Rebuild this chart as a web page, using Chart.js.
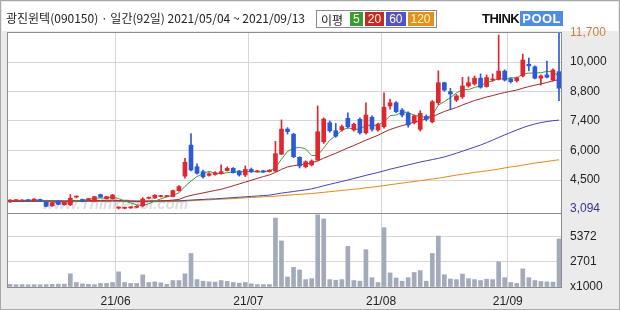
<!DOCTYPE html>
<html>
<head>
<meta charset="utf-8">
<script src="https://cdn.jsdelivr.net/npm/chart.js@4.4.0/dist/chart.umd.min.js"></script>
<style>
  html, body { margin: 0; padding: 0; background: #ebebeb; }
  #wrap { position: relative; width: 620px; height: 310px; overflow: hidden; }
  #chart { position: absolute; left: 0; top: 0; }
  #title { position: absolute; left: 6px; top: 9px; font: 12px "Noto Sans CJK KR", sans-serif; color: #222; white-space: nowrap; line-height: 18px; }
  #maBox { position: absolute; left: 316px; top: 10px; height: 16px; border: 1px solid #8a8a8a; background: #fff; display: flex; align-items: center; padding: 0 2px 0 4px; font: 12px "Noto Sans CJK KR", sans-serif; }
  #maBox .lbl { margin-right: 5px; color: #222; }
  #maBox .ma { display: inline-block; height: 14px; line-height: 14px; padding: 0 3px; margin-left: 2px; font: 12px "Liberation Sans", sans-serif; color: #ffffc8; }
  #logo { position: absolute; left: 482px; top: 11px; font: bold 13px "Liberation Sans", sans-serif; white-space: nowrap; line-height: 16px; }
  #logo .think { color: #111; letter-spacing: -0.5px; }
  #logo .pool { color: #fff; background: #4d8de6; padding: 0 2px; margin-left: 1px; letter-spacing: 0.5px; }
</style>
</head>
<body>
<div id="wrap">
  <canvas id="chart" width="620" height="310"></canvas>
  <div id="title">광진윈텍(090150) · 일간(92일) 2021/05/04 ~ 2021/09/13</div>
  <div id="maBox"><span class="lbl">이평</span></div>
  <div id="logo"><span class="think">THINK</span><span class="pool">POOL</span></div>
</div>
<script>
// trading days, 2021/05/04 ~ 2021/09/13
const mayDays = [4, 6, 7, 10, 11, 12, 13, 14, 17, 18, 20, 21, 24, 25, 26, 27, 28, 31]
const junDays = [1, 2, 3, 4, 7, 8, 9, 10, 11, 14, 15, 16, 17, 18, 21, 22, 23, 24, 25, 28, 29, 30]
const julDays = [1, 2, 5, 6, 7, 8, 9, 12, 13, 14, 15, 16, 19, 20, 21, 22, 23, 26, 27, 28, 29, 30]
const augDays = [2, 3, 4, 5, 6, 9, 10, 11, 12, 13, 17, 18, 19, 20, 23, 24, 25, 26, 27, 30, 31]
const sepDays = [1, 2, 3, 6, 7, 8, 9, 10, 13]

const opens = [
  3440, 3500, 3480, 3530, 3500, 3560, 3440, 3250, 3480, 3300,
  3300, 3680, 3560, 3520, 3480, 3800, 3600, 3600, 3140, 3130,
  3150, 3180, 3250, 3620, 3630, 3700, 3700, 3700, 3990, 4700,
  6220, 5160, 4920, 4740, 4780, 4820, 4970, 5080, 4950, 4760,
  5030, 4910, 4960, 4920, 4950, 5780, 7000, 6750, 5620, 5160,
  5250, 5490, 6380, 7310, 6920, 6960, 7530, 6960, 7480, 6820,
  7580, 6960, 7120, 8130, 8290, 7930, 7770, 7310, 6990, 7620,
  7360, 8290, 9270, 8830, 8420, 8580, 9110, 9210, 9490, 9080,
  9400, 9430, 9840, 9450, 9370, 9600, 10170, 10050, 9490, 9650,
  9400, 9810,
]
const highs = [
  3560, 3560, 3550, 3560, 3600, 3580, 3460, 3420, 3500, 3450,
  3800, 3720, 3580, 3620, 3720, 3820, 3720, 3800, 3200, 3190,
  3210, 3260, 3650, 3680, 3790, 3760, 3750, 4020, 4240, 5570,
  6780, 5300, 5000, 4880, 4920, 5250, 5150, 5120, 4980, 5200,
  5100, 4990, 4990, 5020, 6400, 7450, 7070, 6800, 5650, 5450,
  5500, 8130, 7550, 7400, 7280, 7200, 7800, 7300, 7550, 8290,
  7650, 7300, 8780, 8470, 8350, 8000, 7850, 7700, 7900, 7700,
  8400, 9850, 9300, 9000, 8700, 9530, 9560, 9600, 9700, 9650,
  9700, 11600, 9900, 9500, 9550, 10670, 10480, 10100, 9650, 10330,
  9950, 11700,
]
const lows = [
  3420, 3480, 3460, 3480, 3480, 3460, 3200, 3220, 3300, 3280,
  3260, 3640, 3440, 3500, 3460, 3660, 3580, 3580, 3094, 3100,
  3120, 3150, 3200, 3590, 3610, 3680, 3680, 3680, 3960, 4600,
  4950, 4800, 4600, 4700, 4750, 4800, 4950, 4850, 4700, 4680,
  4880, 4890, 4880, 4900, 4920, 5750, 6760, 5600, 5100, 5100,
  5200, 5450, 6300, 6850, 6600, 6900, 7050, 6900, 6750, 6750,
  6900, 6900, 7050, 7970, 7800, 7600, 7100, 7250, 6900, 7400,
  7300, 8200, 8850, 7950, 8350, 8500, 9050, 9150, 9000, 9050,
  9350, 9400, 9350, 9250, 9300, 9550, 9850, 9450, 9150, 9500,
  9350, 8390,
]
const closes = [
  3530, 3520, 3520, 3500, 3580, 3480, 3230, 3400, 3320, 3420,
  3620, 3700, 3460, 3600, 3700, 3680, 3700, 3780, 3160, 3150,
  3170, 3230, 3580, 3640, 3770, 3720, 3720, 3990, 4190, 5380,
  5000, 4840, 4670, 4820, 4870, 4920, 5080, 4870, 4760, 5030,
  4910, 4960, 4900, 4990, 5800, 7000, 6880, 5650, 5200, 5400,
  5440, 6870, 7490, 6920, 6660, 7120, 7120, 7240, 6820, 7690,
  6990, 7240, 8070, 8290, 7850, 7690, 7200, 7640, 7770, 7480,
  8340, 9270, 8910, 8720, 8620, 9110, 9270, 9490, 9050, 9520,
  9430, 9840, 9400, 9320, 9510, 10380, 10090, 9490, 9600, 9540,
  9890, 9000,
]
// volume, thousand shares
const volumes = [
  280, 250, 260, 240, 250, 240, 260, 280, 300, 300,
  1410, 480, 340, 280, 250, 380, 380, 480, 1620, 480,
  380, 380, 1300, 480, 550, 450, 280, 690, 690, 1410,
  3580, 790, 620, 550, 520, 690, 590, 480, 410, 480,
  340, 260, 260, 270, 7360, 4920, 1070, 2100, 1820, 790,
  890, 7700, 7260, 790, 720, 790, 4330, 690, 620, 3990,
  1000, 480, 6330, 1510, 960, 620, 1000, 1550, 1750, 620,
  3580, 5440, 1310, 860, 790, 1380, 890, 790, 690, 830,
  790, 2680, 1000, 480, 380, 1930, 1000, 690, 590, 550,
  520, 5130,
]
// moving averages as drawn
const ma5 = [
  3510, 3510, 3515, 3515, 3530, 3520, 3460, 3440, 3400, 3370,
  3400, 3490, 3500, 3560, 3620, 3630, 3630, 3690, 3600, 3490,
  3390, 3300, 3260, 3350, 3480, 3590, 3690, 3770, 3880, 4200,
  4460, 4680, 4820, 4940, 4840, 4820, 4870, 4910, 4900, 4930,
  4930, 4910, 4910, 4960, 5110, 5530, 5910, 6060, 6110, 6030,
  5710, 5710, 6080, 6460, 6680, 6950, 7060, 7010, 6980, 7200,
  7170, 7200, 7360, 7660, 7690, 7830, 7820, 7670, 7630, 7560,
  7690, 8170, 8350, 8540, 8770, 8930, 8930, 9040, 9110, 9290,
  9350, 9470, 9450, 9510, 9500, 9690, 9740, 9740, 9760, 9820,
  9800, 9580,
]
const ma20 = [
  3490, 3495, 3500, 3500, 3505, 3505, 3500, 3495, 3490, 3490,
  3495, 3500, 3500, 3505, 3510, 3515, 3520, 3530, 3510, 3495,
  3480, 3470, 3470, 3475, 3485, 3495, 3505, 3530, 3560, 3680,
  3760, 3820, 3880, 3940, 4000, 4060, 4140, 4230, 4320, 4410,
  4500, 4590, 4680, 4760, 4880, 5030, 5150, 5210, 5250, 5300,
  5350, 5440, 5580, 5700, 5820, 5950, 6080, 6200, 6330, 6460,
  6580, 6700, 6850, 6980, 7080, 7170, 7250, 7340, 7420, 7500,
  7600, 7740, 7860, 7960, 8060, 8180, 8290, 8400, 8480, 8570,
  8640, 8720, 8790, 8850, 8910, 9000, 9080, 9150, 9210, 9280,
  9360, 9420,
]
const ma60 = [
  3470, 3470, 3472, 3474, 3476, 3478, 3478, 3478, 3478, 3478,
  3480, 3482, 3482, 3484, 3486, 3488, 3490, 3492, 3490, 3488,
  3486, 3484, 3484, 3486, 3488, 3490, 3492, 3496, 3500, 3510,
  3530, 3550, 3560, 3580, 3590, 3610, 3630, 3650, 3670, 3690,
  3710, 3730, 3750, 3770, 3820, 3870, 3910, 3950, 3990, 4030,
  4080, 4150, 4230, 4300, 4370, 4440, 4510, 4590, 4660, 4740,
  4810, 4880, 4960, 5040, 5110, 5180, 5250, 5320, 5390, 5450,
  5510, 5570, 5640, 5730, 5820, 5920, 6020, 6120, 6220, 6340,
  6460, 6590, 6720, 6840, 6960, 7070, 7170, 7250, 7320, 7370,
  7410, 7440,
]
const ma120 = [
  3460, 3460, 3460, 3460, 3460, 3460, 3460, 3460, 3460, 3460,
  3460, 3460, 3460, 3460, 3460, 3460, 3460, 3460, 3455, 3450,
  3448, 3446, 3446, 3448, 3450, 3452, 3455, 3458, 3462, 3480,
  3500, 3510, 3530, 3540, 3560, 3570, 3590, 3600, 3620, 3640,
  3660, 3670, 3690, 3700, 3720, 3750, 3770, 3790, 3810, 3830,
  3850, 3880, 3910, 3940, 3970, 4000, 4030, 4060, 4090, 4130,
  4160, 4200, 4240, 4280, 4320, 4360, 4400, 4440, 4480, 4520,
  4560, 4600, 4650, 4700, 4750, 4790, 4840, 4880, 4920, 4960,
  5000, 5050, 5100, 5150, 5190, 5240, 5290, 5340, 5380, 5420,
  5460, 5500,
]

const maPeriods = [5, 20, 60, 120]
const maColors = ["#3a9a3a", "#c42a2a", "#5252c6", "#e3901e"]
const maLineColors = ["#3f9a3f", "#a32a2a", "#4444b0", "#e08a1a"]

// right axis: gridline values and the labels printed beside them
const priceMin = 2898
const priceMax = 11749
const priceTickValues = [11700, 10280, 8815, 7400, 5930, 4510, 3094]
const priceTickLabels = ["11,700", "10,000", "8,800", "7,400", "6,000", "4,500", "3,094"]
const volMax = 7900
const volTickValues = [5372, 2701, 0]
const volTickLabels = ["5372", "2701", "x1000"]

const UP = "#e0262e"
const DOWN = "#2b5ad6"
const GRID = "#d6d6d6"
const FRAME = "#8c8c8c"

const dates = []
;[["05", mayDays], ["06", junDays], ["07", julDays], ["08", augDays], ["09", sepDays]].forEach(([m, days]) => {
  days.forEach(d => dates.push("21/" + m + "/" + String(d).padStart(2, "0")))
})
const isMonthStart = i => i > 0 && i < dates.length && dates[i].slice(0, 5) !== dates[i - 1].slice(0, 5)

// ma legend boxes
const maBox = document.getElementById("maBox")
maPeriods.forEach((p, k) => {
  const s = document.createElement("span")
  s.className = "ma"
  s.style.background = maColors[k]
  s.textContent = p
  maBox.appendChild(s)
})

const candleColors = closes.map((c, i) => (c >= opens[i] ? UP : DOWN))

const framePlugin = {
  id: "frame",
  beforeDraw(chart) {
    const { ctx, chartArea: a } = chart
    ctx.save()
    ctx.fillStyle = "#ebebeb"
    ctx.fillRect(0, 0, chart.width, chart.height)
    ctx.fillStyle = "#ffffff"
    ctx.fillRect(2, 2, chart.width - 4, 29)
    ctx.fillRect(a.left, a.top, a.right - a.left, a.bottom - a.top)
    ctx.strokeStyle = "#a8a8a8"
    ctx.lineWidth = 1
    ctx.strokeRect(0.5, 0.5, chart.width - 1, chart.height - 1)
    ctx.restore()
  },
  beforeDatasetsDraw(chart) {
    // faint site watermark
    const { ctx, scales } = chart
    ctx.save()
    ctx.font = "bold italic 15px 'Liberation Sans'"
    ctx.fillStyle = "rgba(110,120,150,0.25)"
    ctx.textBaseline = "middle"
    ctx.fillText("www.ThinkPool.com", 42, scales.y.bottom - 8)
    ctx.restore()
  },
  afterDatasetsDraw(chart) {
    const { ctx, chartArea: a, scales } = chart
    ctx.save()
    ctx.strokeStyle = FRAME
    ctx.lineWidth = 1
    ;[scales.y, scales.yv].forEach(s => {
      ctx.strokeRect(Math.round(a.left) + 0.5, Math.round(s.top) + 0.5, Math.round(a.right - a.left) - 1, Math.round(s.bottom - s.top))
    })
    ctx.restore()
  },
}

const lineSet = (data, k) => ({
  type: "line",
  data: data,
  yAxisID: "y",
  borderColor: maLineColors[k],
  borderWidth: 1,
  pointRadius: 0,
  tension: 0,
  order: 3,
})

new Chart(document.getElementById("chart"), {
  type: "bar",
  data: {
    labels: dates,
    datasets: [
      {
        data: opens.map((o, i) => [o, closes[i]]),
        yAxisID: "y",
        backgroundColor: candleColors,
        barThickness: 4,
        minBarLength: 1,
        grouped: false,
        order: 1,
      },
      {
        data: lows.map((l, i) => [l, highs[i]]),
        yAxisID: "y",
        backgroundColor: candleColors,
        barThickness: 1,
        grouped: false,
        order: 2,
      },
      lineSet(ma5, 0),
      lineSet(ma20, 1),
      lineSet(ma60, 2),
      lineSet(ma120, 3),
      {
        data: volumes,
        yAxisID: "yv",
        backgroundColor: "#a2aabb",
        barThickness: 4,
        grouped: false,
        order: 5,
      },
    ],
  },
  options: {
    responsive: false,
    animation: false,
    layout: { padding: { left: 7, top: 32, right: 0, bottom: 0 } },
    plugins: { legend: { display: false }, tooltip: { enabled: false } },
    scales: {
      x: {
        offset: true,
        afterFit: s => { s.height = 23 },
        border: { display: false },
        grid: {
          offset: true,
          drawTicks: false,
          color: c => (isMonthStart(c.index) ? GRID : "rgba(0,0,0,0)"),
        },
        ticks: {
          autoSkip: false,
          maxRotation: 0,
          padding: 7,
          labelOffset: -3,
          color: "#222",
          font: { family: "Liberation Sans", size: 12 },
          callback: (v, i) => (isMonthStart(i) ? dates[i].slice(0, 5) : ""),
        },
      },
      y: {
        type: "linear",
        position: "right",
        stack: "panels",
        stackWeight: 181,
        min: priceMin,
        max: priceMax,
        afterBuildTicks: s => { s.ticks = priceTickValues.map(v => ({ value: v })) },
        afterFit: s => { s.width = 58 },
        border: { display: false },
        grid: {
          drawTicks: false,
          color: c => (c.index === 0 || c.index === priceTickValues.length - 1 ? "rgba(0,0,0,0)" : GRID),
        },
        ticks: {
          autoSkip: false,
          padding: 8,
          font: { family: "Liberation Sans", size: 12 },
          color: c => (c.index === 0 ? "#c8813e" : c.index === priceTickValues.length - 1 ? "#33338a" : "#222"),
          callback: (v, i) => priceTickLabels[i],
        },
      },
      yv: {
        type: "linear",
        position: "right",
        stack: "panels",
        stackWeight: 74,
        min: 0,
        max: volMax,
        afterBuildTicks: s => { s.ticks = volTickValues.map(v => ({ value: v })) },
        afterFit: s => { s.width = 58 },
        border: { display: false },
        grid: {
          drawTicks: false,
          color: c => (c.index === volTickValues.length - 1 ? "rgba(0,0,0,0)" : GRID),
        },
        ticks: {
          autoSkip: false,
          padding: 8,
          color: "#222",
          font: { family: "Liberation Sans", size: 12 },
          callback: (v, i) => volTickLabels[i],
        },
      },
    },
  },
  plugins: [framePlugin],
})
</script>
</body>
</html>
